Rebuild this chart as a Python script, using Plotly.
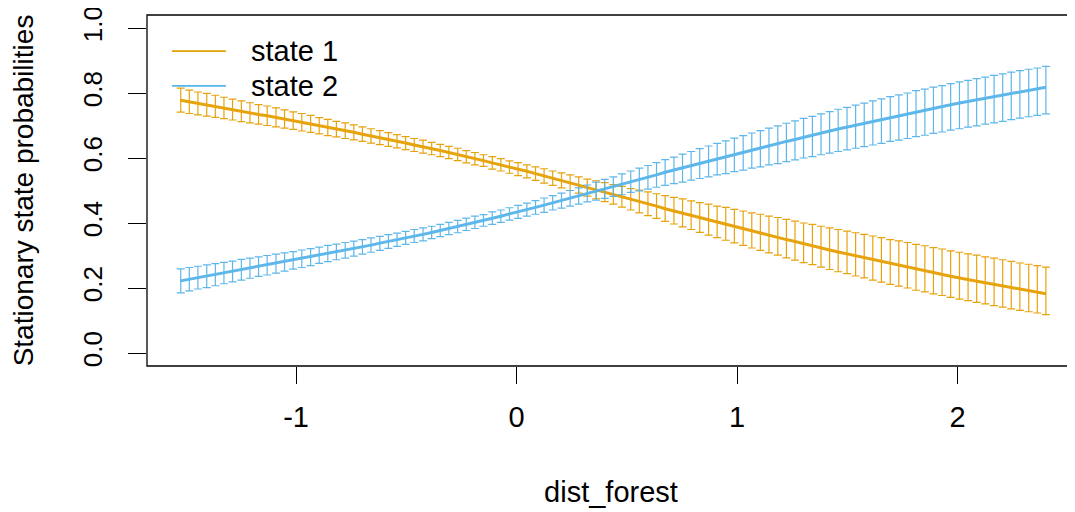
import plotly.graph_objects as go

# ---- data ----
dist_forest = [
    -1.523, -1.484, -1.445, -1.405, -1.366, -1.327, -1.288, -1.248, -1.209, -1.170,
    -1.131, -1.091, -1.052, -1.013, -0.974, -0.934, -0.895, -0.856, -0.817, -0.777,
    -0.738, -0.699, -0.660, -0.620, -0.581, -0.542, -0.503, -0.464, -0.424, -0.385,
    -0.346, -0.307, -0.267, -0.228, -0.189, -0.150, -0.110, -0.071, -0.032, 0.007,
    0.047, 0.086, 0.125, 0.164, 0.204, 0.243, 0.282, 0.321, 0.361, 0.400,
    0.439, 0.478, 0.518, 0.557, 0.596, 0.635, 0.674, 0.714, 0.753, 0.792,
    0.831, 0.871, 0.910, 0.949, 0.988, 1.028, 1.067, 1.106, 1.145, 1.185,
    1.224, 1.263, 1.302, 1.342, 1.381, 1.420, 1.459, 1.499, 1.538, 1.577,
    1.616, 1.655, 1.695, 1.734, 1.773, 1.812, 1.852, 1.891, 1.930, 1.969,
    2.009, 2.048, 2.087, 2.126, 2.166, 2.205, 2.244, 2.283, 2.323, 2.362,
    2.401,
]

state1_mean = [
    0.778, 0.773, 0.768, 0.764, 0.759, 0.754, 0.749, 0.744, 0.739, 0.734,
    0.730, 0.725, 0.720, 0.715, 0.710, 0.705, 0.699, 0.694, 0.689, 0.684,
    0.679, 0.673, 0.668, 0.662, 0.657, 0.652, 0.646, 0.640, 0.635, 0.629,
    0.623, 0.617, 0.611, 0.604, 0.598, 0.592, 0.585, 0.579, 0.572, 0.566,
    0.559, 0.552, 0.545, 0.538, 0.531, 0.524, 0.517, 0.509, 0.502, 0.495,
    0.488, 0.481, 0.473, 0.466, 0.459, 0.452, 0.444, 0.437, 0.430, 0.423,
    0.416, 0.409, 0.402, 0.396, 0.389, 0.382, 0.375, 0.369, 0.362, 0.356,
    0.349, 0.343, 0.336, 0.330, 0.323, 0.317, 0.311, 0.305, 0.299, 0.293,
    0.287, 0.281, 0.275, 0.270, 0.264, 0.258, 0.253, 0.247, 0.242, 0.236,
    0.231, 0.226, 0.221, 0.216, 0.211, 0.206, 0.201, 0.196, 0.191, 0.187,
    0.182,
]
state1_upper = [
    0.815, 0.809, 0.803, 0.799, 0.793, 0.787, 0.781, 0.776, 0.770, 0.764,
    0.760, 0.754, 0.748, 0.742, 0.737, 0.731, 0.724, 0.719, 0.713, 0.708,
    0.702, 0.696, 0.690, 0.684, 0.678, 0.672, 0.666, 0.660, 0.655, 0.648,
    0.642, 0.636, 0.630, 0.623, 0.617, 0.610, 0.604, 0.598, 0.591, 0.586,
    0.579, 0.573, 0.567, 0.560, 0.554, 0.548, 0.542, 0.535, 0.530, 0.524,
    0.518, 0.513, 0.506, 0.501, 0.496, 0.490, 0.484, 0.479, 0.474, 0.468,
    0.463, 0.458, 0.452, 0.448, 0.442, 0.437, 0.431, 0.427, 0.421, 0.417,
    0.411, 0.406, 0.400, 0.396, 0.390, 0.385, 0.380, 0.375, 0.370, 0.365,
    0.360, 0.355, 0.349, 0.345, 0.340, 0.334, 0.330, 0.324, 0.320, 0.314,
    0.310, 0.305, 0.301, 0.296, 0.292, 0.287, 0.282, 0.277, 0.273, 0.269,
    0.264,
]
state1_lower = [
    0.741, 0.737, 0.733, 0.729, 0.725, 0.721, 0.717, 0.712, 0.708, 0.704,
    0.700, 0.696, 0.692, 0.688, 0.683, 0.679, 0.674, 0.669, 0.665, 0.660,
    0.656, 0.651, 0.646, 0.641, 0.636, 0.631, 0.626, 0.620, 0.615, 0.610,
    0.604, 0.598, 0.592, 0.585, 0.579, 0.574, 0.566, 0.560, 0.553, 0.546,
    0.539, 0.531, 0.523, 0.516, 0.508, 0.500, 0.492, 0.483, 0.474, 0.466,
    0.458, 0.449, 0.440, 0.431, 0.423, 0.414, 0.405, 0.397, 0.388, 0.380,
    0.371, 0.363, 0.355, 0.347, 0.339, 0.331, 0.323, 0.316, 0.308, 0.301,
    0.293, 0.286, 0.278, 0.272, 0.264, 0.257, 0.250, 0.244, 0.237, 0.231,
    0.224, 0.218, 0.211, 0.206, 0.200, 0.193, 0.188, 0.182, 0.177, 0.171,
    0.166, 0.161, 0.156, 0.151, 0.146, 0.141, 0.136, 0.131, 0.127, 0.123,
    0.118,
]

state2_mean = [
    0.222, 0.227, 0.232, 0.236, 0.241, 0.246, 0.251, 0.256, 0.261, 0.266,
    0.270, 0.275, 0.280, 0.285, 0.290, 0.295, 0.301, 0.306, 0.311, 0.316,
    0.321, 0.327, 0.332, 0.338, 0.343, 0.348, 0.354, 0.360, 0.365, 0.371,
    0.377, 0.383, 0.389, 0.396, 0.402, 0.408, 0.415, 0.421, 0.428, 0.434,
    0.441, 0.448, 0.455, 0.462, 0.469, 0.476, 0.483, 0.491, 0.498, 0.505,
    0.512, 0.519, 0.527, 0.534, 0.541, 0.548, 0.556, 0.563, 0.570, 0.577,
    0.584, 0.591, 0.598, 0.604, 0.611, 0.618, 0.625, 0.631, 0.638, 0.644,
    0.651, 0.657, 0.664, 0.670, 0.677, 0.683, 0.689, 0.695, 0.701, 0.707,
    0.713, 0.719, 0.725, 0.730, 0.736, 0.742, 0.747, 0.753, 0.758, 0.764,
    0.769, 0.774, 0.779, 0.784, 0.789, 0.794, 0.799, 0.804, 0.809, 0.813,
    0.818,
]
state2_upper = [
    0.259, 0.263, 0.267, 0.271, 0.275, 0.279, 0.283, 0.288, 0.292, 0.296,
    0.300, 0.304, 0.308, 0.312, 0.317, 0.321, 0.326, 0.331, 0.335, 0.340,
    0.344, 0.349, 0.354, 0.359, 0.364, 0.369, 0.374, 0.380, 0.385, 0.390,
    0.396, 0.402, 0.408, 0.415, 0.421, 0.426, 0.434, 0.440, 0.447, 0.454,
    0.461, 0.469, 0.477, 0.484, 0.492, 0.500, 0.508, 0.517, 0.526, 0.534,
    0.542, 0.551, 0.560, 0.569, 0.577, 0.586, 0.595, 0.603, 0.612, 0.620,
    0.629, 0.637, 0.645, 0.653, 0.661, 0.669, 0.677, 0.684, 0.692, 0.699,
    0.707, 0.714, 0.722, 0.728, 0.736, 0.743, 0.750, 0.756, 0.763, 0.769,
    0.776, 0.782, 0.789, 0.794, 0.800, 0.807, 0.812, 0.818, 0.823, 0.829,
    0.834, 0.839, 0.844, 0.849, 0.854, 0.859, 0.864, 0.869, 0.873, 0.877,
    0.882,
]
state2_lower = [
    0.185, 0.191, 0.197, 0.201, 0.207, 0.213, 0.219, 0.224, 0.230, 0.236,
    0.240, 0.246, 0.252, 0.258, 0.263, 0.269, 0.276, 0.281, 0.287, 0.292,
    0.298, 0.304, 0.310, 0.316, 0.322, 0.328, 0.334, 0.340, 0.345, 0.352,
    0.358, 0.364, 0.370, 0.377, 0.383, 0.390, 0.396, 0.402, 0.409, 0.414,
    0.421, 0.427, 0.433, 0.440, 0.446, 0.452, 0.458, 0.465, 0.470, 0.476,
    0.482, 0.487, 0.494, 0.499, 0.504, 0.510, 0.516, 0.521, 0.526, 0.532,
    0.537, 0.542, 0.548, 0.552, 0.558, 0.563, 0.569, 0.573, 0.579, 0.583,
    0.589, 0.594, 0.600, 0.604, 0.610, 0.615, 0.620, 0.625, 0.630, 0.635,
    0.640, 0.645, 0.651, 0.655, 0.660, 0.666, 0.670, 0.676, 0.680, 0.686,
    0.690, 0.695, 0.699, 0.704, 0.708, 0.713, 0.718, 0.723, 0.727, 0.731,
    0.736,
]

state_names = ["state 1", "state 2"]
state_colors = ["#E69F00", "#56B4E9"]
x_ticks = [-1, 0, 1, 2]
y_ticks = [0.0, 0.2, 0.4, 0.6, 0.8, 1.0]
y_tick_text = ["0.0", "0.2", "0.4", "0.6", "0.8", "1.0"]

FONT = "Liberation Sans, Arial, sans-serif"

fig = go.Figure()
series = [
    (state1_mean, state1_lower, state1_upper),
    (state2_mean, state2_lower, state2_upper),
]
for (mean, lower, upper), name, col in zip(series, state_names, state_colors):
    plus = [u - m for u, m in zip(upper, mean)]
    minus = [m - l for m, l in zip(mean, lower)]
    fig.add_trace(go.Scatter(
        x=dist_forest, y=mean, mode="lines", name=name,
        line=dict(color=col, width=3),
        error_y=dict(type="data", symmetric=False, array=plus, arrayminus=minus,
                     color=col, thickness=1.2, width=4),
        showlegend=False, hoverinfo="skip", opacity=0.95,
    ))

# legend (R style, no box) drawn in paper coordinates
legend_y = [0.897, 0.798]
for name, col, ly in zip(state_names, state_colors, legend_y):
    fig.add_shape(type="line", xref="paper", yref="paper",
                  x0=0.027, x1=0.085, y0=ly, y1=ly,
                  line=dict(color=col, width=1.6))
    fig.add_annotation(xref="paper", yref="paper", x=0.110, y=ly,
                       text=name, showarrow=False, xanchor="left", yanchor="middle",
                       font=dict(family=FONT, size=29, color="black"))

# plot box (right side lies outside the picture)
fig.add_shape(type="rect", xref="paper", yref="paper", x0=0, x1=1.02, y0=0, y1=1,
              line=dict(color="black", width=1.3), layer="above")

# page body has an 8px margin: figure is sized to fit the window without overflow
fig.update_layout(
    width=1067, height=504,
    margin=dict(l=139, r=0, t=7, b=146, autoexpand=False),
    plot_bgcolor="white", paper_bgcolor="white",
    font=dict(family=FONT, size=28, color="black"),
    showlegend=False,
)
fig.update_xaxes(
    range=[-1.676, 2.533], tickvals=x_ticks, ticktext=[str(v) for v in x_ticks],
    ticks="outside", ticklen=17, tickwidth=1.3, tickcolor="black",
    showgrid=False, zeroline=False, showline=False, automargin=False,
    tickfont=dict(family=FONT, size=29), ticklabelstandoff=8,
    ticklabeloverflow="allow",
    title=dict(text="dist_forest", font=dict(family=FONT, size=29), standoff=49),
)
fig.update_yaxes(
    range=[-0.04, 1.04], tickvals=y_ticks, ticktext=y_tick_text, tickangle=-90,
    ticks="outside", ticklen=18, tickwidth=1.3, tickcolor="black",
    showgrid=False, zeroline=False, showline=False, automargin=False,
    tickfont=dict(family=FONT, size=26), ticklabelstandoff=16,
    ticklabeloverflow="allow",
    title=dict(text="Stationary state probabilities", font=dict(family=FONT, size=28), standoff=35),
)

fig.write_html("out.html")
